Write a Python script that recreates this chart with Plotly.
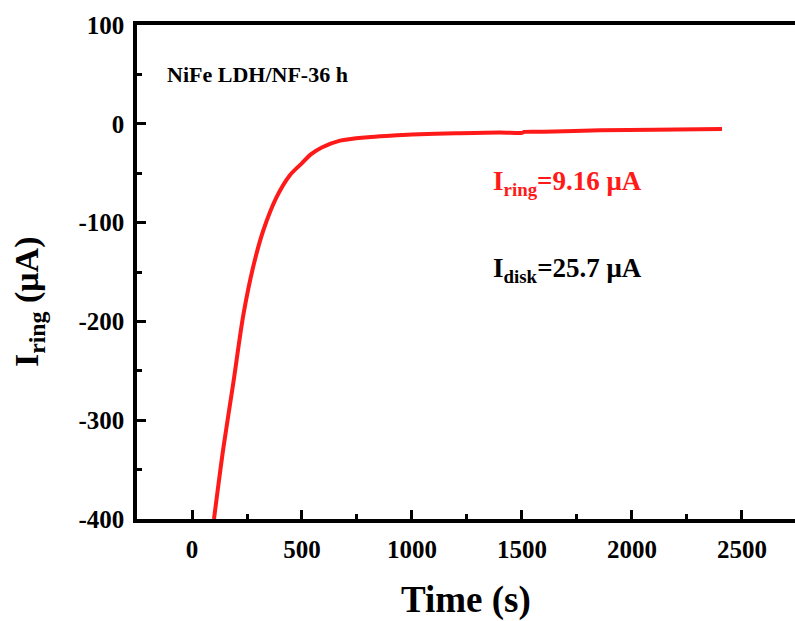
import plotly.graph_objects as go

time_s = [100, 142, 188, 233, 279, 324, 385, 445, 499, 540, 590, 673, 800, 900, 1000, 1200, 1400, 1500, 1510, 1600, 1855, 2100, 2409]
i_ring = [-400, -329, -262, -194, -144, -108, -74, -52, -40, -31, -24, -17, -13.5, -12, -10.8, -9.6, -8.8, -9.2, -8.2, -8.0, -6.5, -6.0, -5.2]

x_ticks = [0, 500, 1000, 1500, 2000, 2500]
y_ticks = [-400, -300, -200, -100, 0, 100]

FONT = "Liberation Serif"

fig = go.Figure()
fig.add_trace(go.Scatter(x=time_s, y=i_ring, mode="lines",
                         line=dict(color="#ff1a1a", width=4, shape="spline", smoothing=0.8),
                         showlegend=False))

axis_common = dict(showgrid=False, zeroline=False, showline=True, linecolor="black", linewidth=3.5,
                   ticks="inside", ticklen=9, tickwidth=3, tickcolor="black",
                   tickfont=dict(family=FONT, size=25, color="black"))

fig.update_layout(
    width=795, height=621,
    margin=dict(l=137, r=0, t=25, b=102),
    paper_bgcolor="white", plot_bgcolor="white",
    font=dict(family=FONT, color="black"),
    xaxis=dict(range=[-250, 2741], tickvals=x_ticks, ticktext=[f"<b>{v}</b>" for v in x_ticks],
               mirror=True, ticklabelstandoff=5,
               minor=dict(tickvals=[-250, 250, 750, 1250, 1750, 2250], ticks="inside", ticklen=5,
                          tickwidth=3, tickcolor="black"),
               **axis_common),
    yaxis=dict(range=[-400, 100], tickvals=y_ticks, ticktext=[f"<b>{v}</b>" for v in y_ticks],
               mirror=False, ticklabelstandoff=4,
               minor=dict(tickvals=[-350, -250, -150, -50, 50], ticks="inside", ticklen=5,
                          tickwidth=3, tickcolor="black"),
               **axis_common),
)

# axis titles
fig.add_annotation(x=0.50, y=-0.164, xref="paper", yref="paper", xanchor="center", yanchor="middle",
                   text="<b>Time (s)</b>", showarrow=False,
                   font=dict(family=FONT, size=37, color="black"))
fig.add_annotation(x=-0.165, y=0.44, xref="paper", yref="paper", xanchor="center", yanchor="middle",
                   text="<b>I<sub>ring</sub> (μA)</b>", showarrow=False, textangle=-90,
                   font=dict(family=FONT, size=34, color="black"))

fig.add_annotation(x=-125, y=50, xref="x", yref="y", xanchor="left", yanchor="middle",
                   text="<b>NiFe LDH/NF-36 h</b>", showarrow=False,
                   font=dict(family=FONT, size=22, color="black"))
fig.add_annotation(x=1360, y=-60, xref="x", yref="y", xanchor="left", yanchor="middle",
                   text="<b>I<sub>ring</sub>=9.16 μA</b>", showarrow=False,
                   font=dict(family=FONT, size=27, color="#ff1a1a"))
fig.add_annotation(x=1360, y=-148, xref="x", yref="y", xanchor="left", yanchor="middle",
                   text="<b>I<sub>disk</sub>=25.7 μA</b>", showarrow=False,
                   font=dict(family=FONT, size=27, color="black"))

fig.write_html("out.html")
